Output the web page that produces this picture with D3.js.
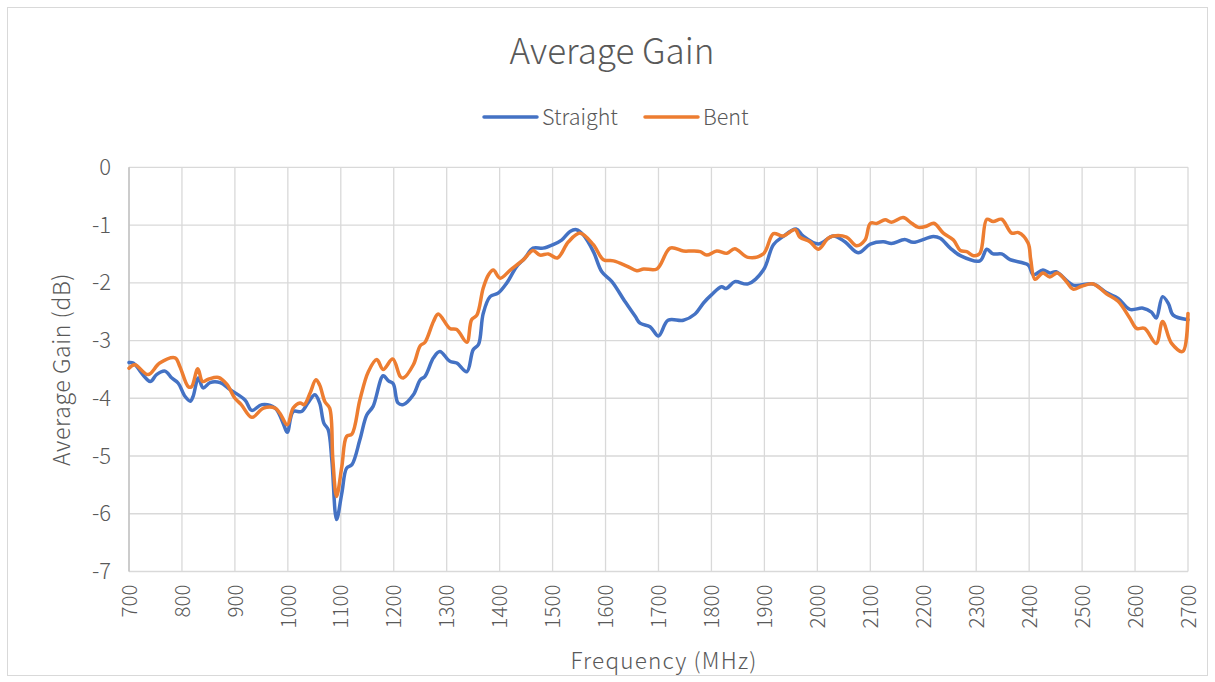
<!DOCTYPE html>
<html><head><meta charset="utf-8">
<script src="https://cdn.jsdelivr.net/npm/d3@7"></script>
<style>body{margin:0;background:#fff}svg{display:block}text{font-family:"Noto Sans CJK SC","Noto Sans",sans-serif;fill:#595959;font-weight:300}</style>
</head><body>
<script>
const title = "Average Gain";
const xTicks = d3.range(700, 2701, 100);
const yTicks = [0, -1, -2, -3, -4, -5, -6, -7];
const seriesNames = ["Straight", "Bent"];
const seriesColors = ["#4472C4", "#ED7D31"];

const straightFreq = [700,708,740,752,768,781,793,806,816,821,831,840,853,872,891,919,932,951,976,991,999,1010,1026,1038,1051,1060,1068,1076,1083,1092,1102,1111,1121,1136,1149,1161,1180,1190,1199,1208,1218,1237,1250,1259,1275,1287,1306,1319,1338,1350,1360,1369,1382,1397,1413,1432,1447,1463,1482,1501,1517,1533,1545,1558,1577,1593,1612,1637,1656,1665,1684,1700,1718,1747,1769,1785,1800,1819,1828,1844,1869,1898,1917,1935,1960,1973,2002,2030,2052,2077,2100,2125,2140,2165,2181,2219,2232,2251,2270,2307,2320,2332,2348,2364,2398,2408,2426,2439,2451,2483,2521,2546,2568,2590,2615,2631,2640,2652,2663,2672,2700];
const straightGain = [-3.38,-3.39,-3.71,-3.59,-3.53,-3.65,-3.74,-3.97,-4.05,-3.97,-3.65,-3.82,-3.73,-3.73,-3.85,-4.03,-4.21,-4.11,-4.17,-4.43,-4.59,-4.23,-4.23,-4.08,-3.94,-4.08,-4.43,-4.54,-5.06,-6.10,-5.64,-5.21,-5.15,-4.72,-4.29,-4.14,-3.61,-3.70,-3.75,-4.08,-4.11,-3.94,-3.68,-3.62,-3.30,-3.19,-3.36,-3.39,-3.54,-3.16,-3.07,-2.53,-2.24,-2.18,-2.01,-1.72,-1.58,-1.40,-1.40,-1.34,-1.26,-1.11,-1.08,-1.17,-1.46,-1.81,-1.98,-2.33,-2.58,-2.70,-2.76,-2.92,-2.65,-2.65,-2.54,-2.35,-2.21,-2.07,-2.10,-1.98,-2.02,-1.78,-1.34,-1.20,-1.07,-1.19,-1.33,-1.19,-1.29,-1.48,-1.33,-1.29,-1.32,-1.25,-1.30,-1.20,-1.23,-1.40,-1.53,-1.62,-1.42,-1.50,-1.50,-1.60,-1.69,-1.86,-1.78,-1.83,-1.81,-2.04,-2.02,-2.17,-2.27,-2.46,-2.44,-2.51,-2.61,-2.24,-2.36,-2.56,-2.64];

const bentFreq = [700,711,736,758,787,796,812,818,830,839,850,869,885,900,912,932,954,976,985,999,1010,1023,1031,1042,1053,1060,1070,1079,1085,1092,1102,1111,1121,1136,1152,1168,1180,1198,1212,1218,1237,1250,1259,1275,1284,1306,1319,1338,1347,1357,1369,1379,1388,1401,1420,1445,1463,1476,1492,1509,1530,1552,1577,1596,1615,1640,1659,1672,1697,1722,1747,1763,1779,1791,1810,1829,1844,1869,1898,1917,1935,1958,1967,1986,2002,2020,2030,2055,2074,2090,2100,2113,2128,2140,2162,2178,2191,2206,2220,2238,2257,2270,2282,2295,2307,2320,2332,2348,2367,2380,2398,2403,2411,2426,2439,2453,2468,2483,2499,2521,2546,2568,2590,2603,2618,2640,2652,2669,2690,2700];
const bentGain = [-3.48,-3.42,-3.59,-3.39,-3.30,-3.45,-3.80,-3.80,-3.49,-3.71,-3.67,-3.64,-3.76,-4.00,-4.11,-4.33,-4.17,-4.17,-4.26,-4.46,-4.17,-4.08,-4.11,-3.91,-3.68,-3.77,-4.06,-4.17,-5.06,-5.70,-5.18,-4.66,-4.62,-4.03,-3.54,-3.33,-3.50,-3.32,-3.62,-3.65,-3.42,-3.09,-3.03,-2.67,-2.54,-2.79,-2.81,-3.03,-2.64,-2.56,-2.09,-1.86,-1.78,-1.92,-1.78,-1.60,-1.44,-1.52,-1.50,-1.57,-1.29,-1.14,-1.34,-1.60,-1.62,-1.71,-1.79,-1.76,-1.76,-1.40,-1.45,-1.45,-1.46,-1.52,-1.45,-1.49,-1.41,-1.56,-1.50,-1.15,-1.19,-1.08,-1.21,-1.29,-1.42,-1.23,-1.19,-1.21,-1.36,-1.26,-0.97,-0.97,-0.91,-0.95,-0.87,-0.97,-1.04,-1.02,-0.97,-1.14,-1.26,-1.44,-1.46,-1.53,-1.49,-0.90,-0.94,-0.90,-1.14,-1.13,-1.31,-1.60,-1.94,-1.83,-1.90,-1.83,-1.95,-2.11,-2.06,-2.02,-2.19,-2.32,-2.61,-2.79,-2.79,-3.05,-2.67,-3.05,-3.19,-2.53];

const W = 1215, H = 682;
const FONT = '"Noto Sans CJK SC","Noto Sans",sans-serif';
const svg = d3.select("body").append("svg").attr("width", W).attr("height", H);
svg.append("rect").attr("x", 7.5).attr("y", 7.5).attr("width", 1200).attr("height", 668)
  .attr("fill", "#fff").attr("stroke", "#d9d9d9").attr("stroke-width", 1);

const x = d3.scaleLinear().domain([700, 2700]).range([129, 1188]);
const y = d3.scaleLinear().domain([-7, 0]).range([571.5, 167.3]);

// gridlines
const g = svg.append("g");
g.selectAll(".vg").data(xTicks).join("line")
  .attr("x1", d => x(d)).attr("x2", d => x(d)).attr("y1", y(0)).attr("y2", y(-7))
  .attr("stroke", "#d9d9d9").attr("stroke-width", 1.3);
g.selectAll(".hg").data(yTicks).join("line")
  .attr("x1", x(700)).attr("x2", x(2700)).attr("y1", d => y(d)).attr("y2", d => y(d))
  .attr("stroke", "#d9d9d9").attr("stroke-width", 1.3);
g.append("line").attr("x1", x(700)).attr("x2", x(700)).attr("y1", y(0)).attr("y2", y(-7))
  .attr("stroke", "#bfbfbf").attr("stroke-width", 1.3);

// axes labels
const yAxis = d3.axisLeft(y).tickValues(yTicks).tickSize(0).tickPadding(18).tickFormat(d => String(d));
const ya = svg.append("g").attr("transform", `translate(${x(700)},0)`).call(yAxis);
ya.select(".domain").remove();
ya.selectAll("text").attr("font-size", 22).attr("fill", "#595959")
  .attr("font-family", FONT).attr("font-weight", 300);

const xAxis = d3.axisBottom(x).tickValues(xTicks).tickSize(0).tickFormat(d => String(d));
const xa = svg.append("g").attr("transform", `translate(0,${y(-7)})`).call(xAxis);
xa.select(".domain").remove();
xa.selectAll("text").attr("font-size", 20.5).attr("fill", "#595959")
  .attr("font-family", FONT).attr("font-weight", 300)
  .attr("transform", "rotate(-90)").attr("text-anchor", "end")
  .attr("x", -13).attr("y", 0).attr("dy", "0.35em");

// lines
const line = d3.line().x(d => x(d[0])).y(d => y(d[1])).curve(d3.curveCatmullRom.alpha(0.5));
const sData = straightFreq.map((f, i) => [f, straightGain[i]]);
const bData = bentFreq.map((f, i) => [f, bentGain[i]]);
[sData, bData].forEach((d, i) => {
  svg.append("path").datum(d).attr("d", line).attr("fill", "none")
    .attr("stroke", seriesColors[i]).attr("stroke-width", 3.5)
    .attr("stroke-linejoin", "round").attr("stroke-linecap", "round");
});

// title
svg.append("text").attr("x", 612).attr("y", 64).attr("text-anchor", "middle")
  .attr("font-size", 35).text(title);

// legend
const legX = [484, 645];
seriesNames.forEach((n, i) => {
  svg.append("line").attr("x1", legX[i]).attr("x2", legX[i] + 53).attr("y1", 117).attr("y2", 117)
    .attr("stroke", seriesColors[i]).attr("stroke-width", 3.5).attr("stroke-linecap", "round");
  svg.append("text").attr("x", legX[i] + 58).attr("y", 125).attr("font-size", 21.5).text(n);
});

// axis titles
svg.append("text").attr("x", 664).attr("y", 669).attr("text-anchor", "middle").attr("font-size", 22.5)
  .attr("letter-spacing", 1.2).text("Frequency (MHz)");
svg.append("text").attr("transform", `translate(70,${(y(0)+y(-7))/2}) rotate(-90)`)
  .attr("text-anchor", "middle").attr("font-size", 23).attr("letter-spacing", 0.6).text("Average Gain (dB)");
</script>
</body></html>
